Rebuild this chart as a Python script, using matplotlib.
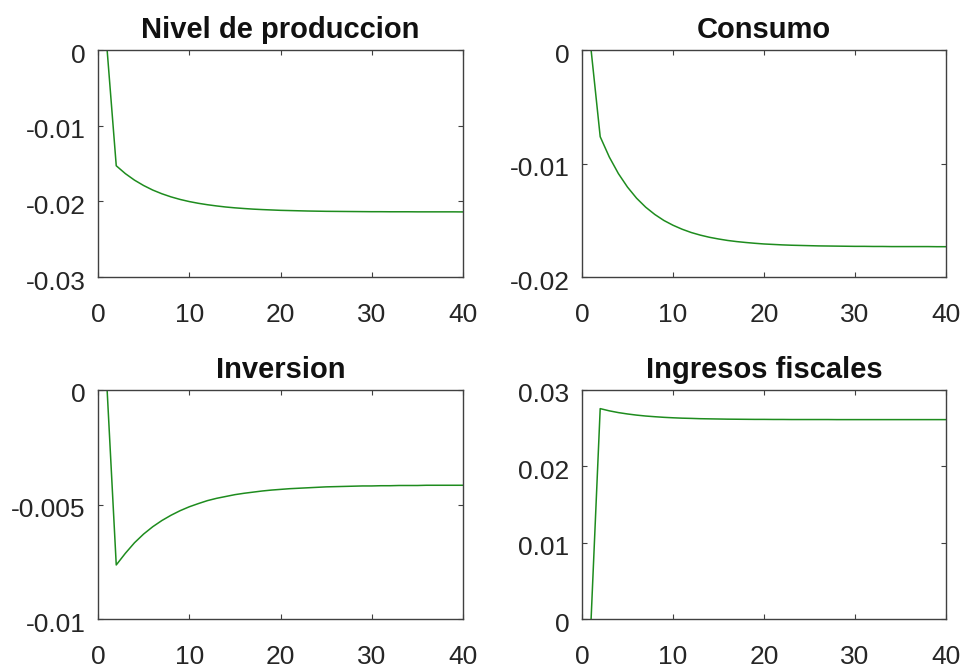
import matplotlib
matplotlib.use("Agg")
import matplotlib.pyplot as plt
from matplotlib.transforms import ScaledTranslation

periods = list(range(1, 41))

produccion = [0.0, -0.01530, -0.01634, -0.01720, -0.01791, -0.01851, -0.01900, -0.01941,
              -0.01975, -0.02003, -0.02026, -0.02045, -0.02061, -0.02075, -0.02086, -0.02095,
              -0.02103, -0.02109, -0.02114, -0.02119, -0.02122, -0.02125, -0.02128, -0.02130,
              -0.02132, -0.02133, -0.02134, -0.02135, -0.02136, -0.02137, -0.02137, -0.02138,
              -0.02138, -0.02138, -0.02139, -0.02139, -0.02139, -0.02139, -0.02139, -0.02140]

consumo = [0.0, -0.00764, -0.00943, -0.01089, -0.01208, -0.01306, -0.01385, -0.01449,
           -0.01502, -0.01544, -0.01579, -0.01608, -0.01631, -0.01650, -0.01665, -0.01678,
           -0.01688, -0.01696, -0.01703, -0.01709, -0.01713, -0.01717, -0.01720, -0.01722,
           -0.01724, -0.01726, -0.01727, -0.01728, -0.01729, -0.01730, -0.01730, -0.01731,
           -0.01731, -0.01732, -0.01732, -0.01732, -0.01732, -0.01732, -0.01733, -0.01733]

inversion = [0.0, -0.00764, -0.00713, -0.00667, -0.00629, -0.00597, -0.00570, -0.00547,
             -0.00527, -0.00510, -0.00496, -0.00483, -0.00473, -0.00465, -0.00457, -0.00451,
             -0.00446, -0.00441, -0.00437, -0.00434, -0.00431, -0.00429, -0.00427, -0.00425,
             -0.00423, -0.00422, -0.00421, -0.00420, -0.00419, -0.00419, -0.00418, -0.00418,
             -0.00417, -0.00417, -0.00417, -0.00416, -0.00416, -0.00416, -0.00416, -0.00416]

ingresos = [0.0, 0.02756, 0.02727, 0.02704, 0.02686, 0.02671, 0.02659, 0.02650,
            0.02642, 0.02636, 0.02631, 0.02628, 0.02624, 0.02622, 0.02620, 0.02618,
            0.02617, 0.02616, 0.02615, 0.02615, 0.02614, 0.02614, 0.02613, 0.02613,
            0.02613, 0.02613, 0.02613, 0.02612, 0.02612, 0.02612, 0.02612, 0.02612,
            0.02612, 0.02612, 0.02612, 0.02612, 0.02612, 0.02612, 0.02612, 0.02612]

titles = ["Nivel de produccion", "Consumo", "Inversion", "Ingresos fiscales"]
series = [produccion, consumo, inversion, ingresos]
ylims = [(-0.03, 0.0), (-0.02, 0.0), (-0.01, 0.0), (0.0, 0.03)]
yticks = [[-0.03, -0.02, -0.01, 0.0], [-0.02, -0.01, 0.0], [-0.01, -0.005, 0.0],
          [0.0, 0.01, 0.02, 0.03]]
yticklabels = [["-0.03", "-0.02", "-0.01", "0"], ["-0.02", "-0.01", "0"],
               ["-0.01", "-0.005", "0"], ["0", "0.01", "0.02", "0.03"]]
xticks = [0, 10, 20, 30, 40]
xticklabels = ["0", "10", "20", "30", "40"]

plt.rcParams['font.family'] = ['Liberation Sans', 'DejaVu Sans']

W, H = 963, 668
fig = plt.figure(figsize=(W / 100, H / 100), dpi=100)

boxes = [(98, 50, 463, 277), (582, 50, 946, 277),
         (98, 390, 463, 619), (582, 390, 946, 619)]

axc = '#404040'
shift = ScaledTranslation(0, -3 / 100, fig.dpi_scale_trans)
for i in range(4):
    l, t, r, b = boxes[i]
    ax = fig.add_axes([l / W, 1 - b / H, (r - l) / W, (b - t) / H])
    ax.plot(periods, series[i], color='#1e8c1e', lw=1.1)
    ax.set_xlim(0, 40)
    ax.set_ylim(*ylims[i])
    ax.set_xticks(xticks)
    ax.set_xticklabels(xticklabels)
    ax.set_yticks(yticks[i])
    ax.set_yticklabels(yticklabels[i])
    ax.tick_params(axis='both', direction='in', length=3.5, width=0.8, color=axc,
                   labelcolor='#262626', labelsize=19, top=True, right=True)
    ax.tick_params(axis='x', pad=19)
    ax.tick_params(axis='y', pad=9)
    for lab in ax.get_yticklabels():
        lab.set_transform(lab.get_transform() + shift)
    for s in ax.spines.values():
        s.set_color(axc)
        s.set_linewidth(1.0)
    ax.set_title(titles[i], fontsize=21, fontweight='bold', pad=9, color='#111111')

fig.savefig('out.png', dpi=100, facecolor='white')
